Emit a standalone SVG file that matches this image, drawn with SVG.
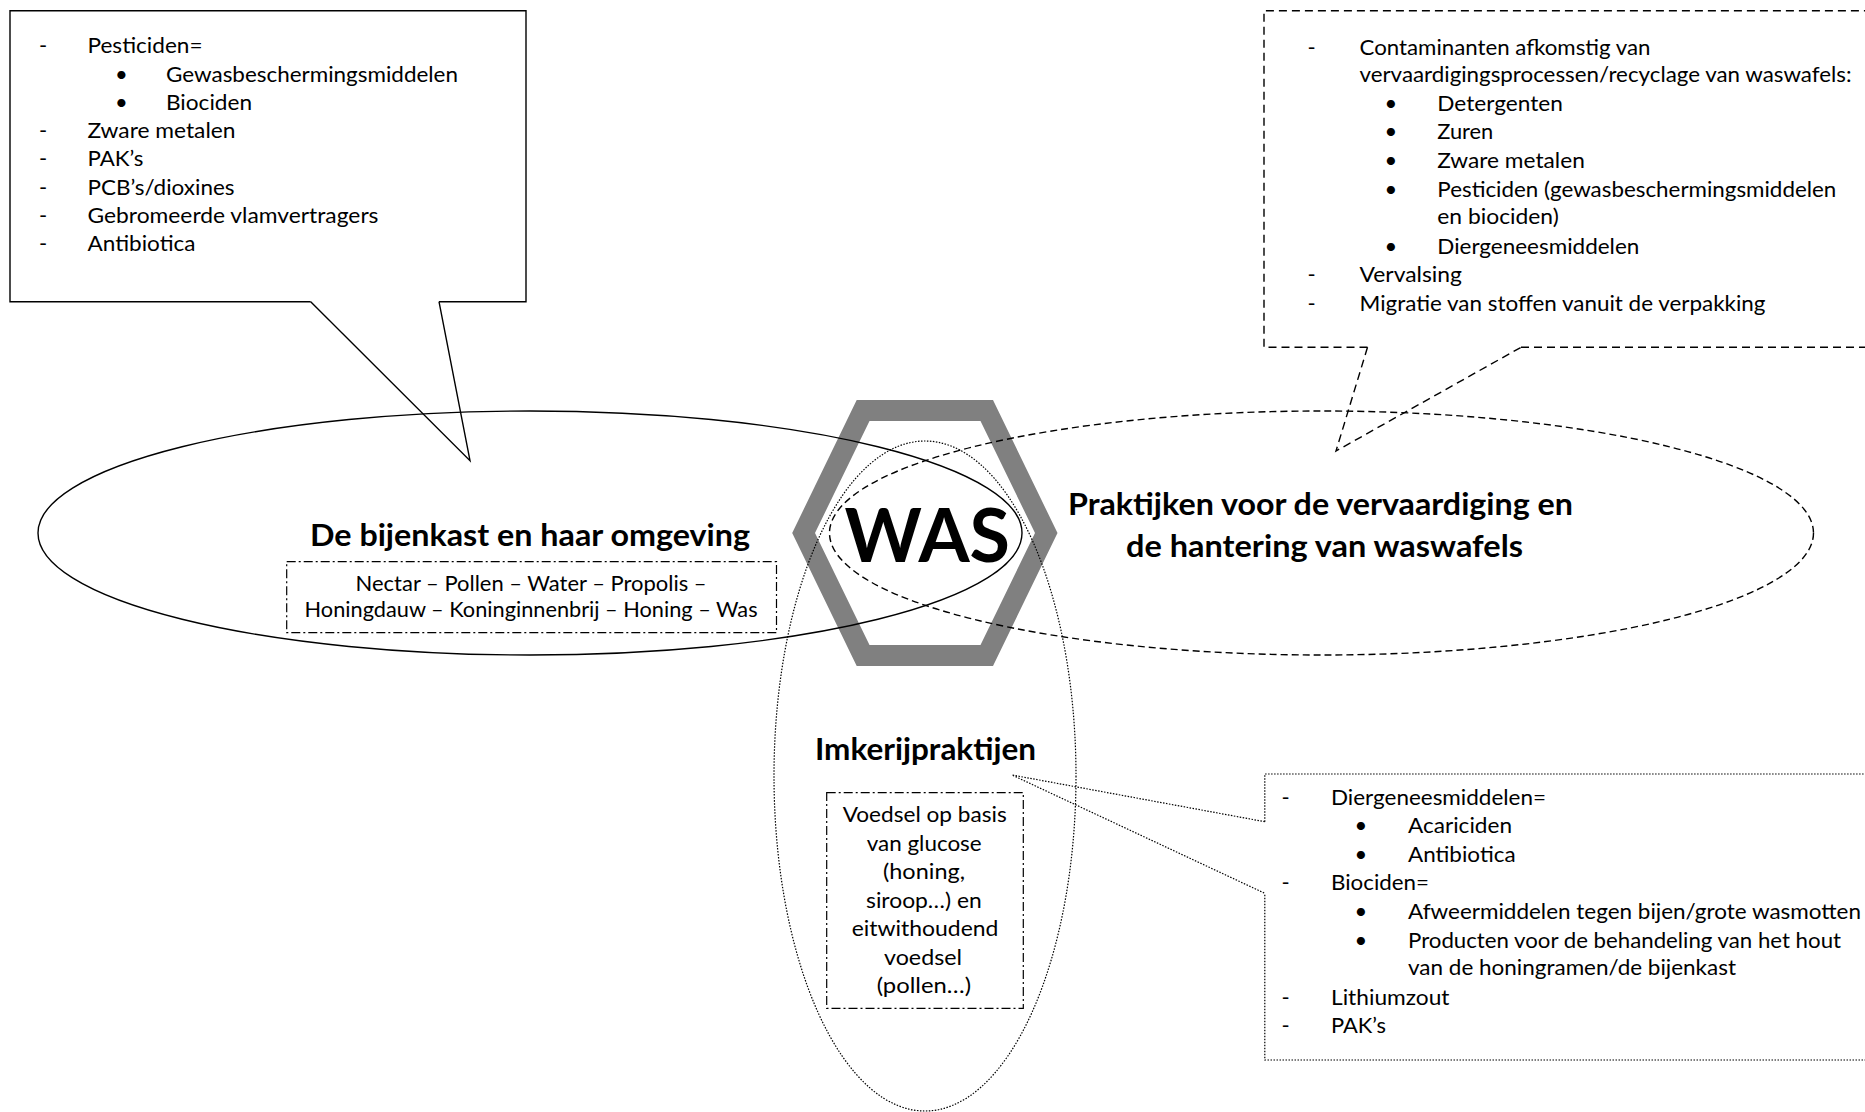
<svg xmlns="http://www.w3.org/2000/svg" width="1865" height="1112" viewBox="0 0 1865 1112">
<style>
.t{font-family:Lato,"Liberation Sans",sans-serif;font-size:22px;fill:#000}
.h{font-family:Lato,"Liberation Sans",sans-serif;font-size:29.5px;font-weight:bold;fill:#000}
.was{font-family:Lato,"Liberation Sans",sans-serif;font-size:75px;font-weight:bold;fill:#000}
.m{text-anchor:middle}
.ln{fill:none;stroke:#000;stroke-width:1.4}
.dash{stroke-dasharray:8 5}
.edash{stroke-dasharray:7 4}
.dot{stroke-width:1.2;stroke-dasharray:1.5 1.5}
.dd{stroke-width:1.2;stroke-dasharray:9 3 2 3}
</style>
<rect width="1865" height="1112" fill="#fff"/>

<g id="hexagon-was">
<path d="M856.7,400 H993 L1057.5,533 L993,666 H856.7 L792.2,533 Z M869.5,421 L815,533 L869.5,645 H980.5 L1035,533 L980.5,421 Z" fill="#808080" fill-rule="evenodd"/>
</g>

<g id="ellipse-bijenkast">
<ellipse class="ln" cx="530" cy="533" rx="492" ry="122"/>
<text class="h" x="310" y="545.7" textLength="440" lengthAdjust="spacingAndGlyphs">De bijenkast en haar omgeving</text>
</g>

<g id="ellipse-waswafels">
<ellipse class="ln edash" cx="1321.5" cy="533" rx="492" ry="122"/>
<text class="h" x="1068" y="515" textLength="505" lengthAdjust="spacingAndGlyphs">Praktijken voor de vervaardiging en</text>
<text class="h" x="1126" y="557" textLength="397" lengthAdjust="spacingAndGlyphs">de hantering van waswafels</text>
</g>

<g id="ellipse-imkerij">
<ellipse class="ln dot" cx="925" cy="776" rx="151" ry="335"/>
<text class="h" x="815" y="760" textLength="221" lengthAdjust="spacingAndGlyphs">Imkerijpraktijen</text>
</g>

<g id="was-label">
<text class="was" x="844.5" y="561.7" textLength="165.5" lengthAdjust="spacingAndGlyphs">WAS</text>
</g>

<g id="box-nectar">
<rect class="ln dd" x="286.7" y="561.7" width="489.8" height="71"/>
<text class="t" x="355.6" y="591" textLength="351" lengthAdjust="spacingAndGlyphs">Nectar – Pollen – Water – Propolis –</text>
<text class="t" x="304.6" y="617.3" textLength="453" lengthAdjust="spacingAndGlyphs">Honingdauw – Koninginnenbrij – Honing – Was</text>
</g>

<g id="box-voedsel">
<rect class="ln dd" x="826.7" y="792.7" width="196.6" height="215.6"/>
<text class="t" x="842.7" y="822" textLength="164" lengthAdjust="spacingAndGlyphs">Voedsel op basis</text>
<text class="t" x="866.7" y="850.5" textLength="115" lengthAdjust="spacingAndGlyphs">van glucose</text>
<text class="t" x="883" y="879" textLength="82" lengthAdjust="spacingAndGlyphs">(honing,</text>
<text class="t" x="866" y="907.5" textLength="115.7" lengthAdjust="spacingAndGlyphs">siroop…) en</text>
<text class="t" x="851.7" y="936" textLength="146.7" lengthAdjust="spacingAndGlyphs">eitwithoudend</text>
<text class="t" x="884" y="964.5" textLength="78" lengthAdjust="spacingAndGlyphs">voedsel</text>
<text class="t" x="876.7" y="993" textLength="94.3" lengthAdjust="spacingAndGlyphs">(pollen…)</text>
</g>

<g id="callout-omgeving">
<path class="ln" d="M310.7,301.7 H10 V10.7 H526 V301.7 H439"/>
<text class="t m" x="43" y="53.3">-</text>
<text class="t" x="87.5" y="53.3" textLength="115" lengthAdjust="spacingAndGlyphs">Pesticiden=</text>
<text class="t m" x="121.5" y="81.5">•</text>
<text class="t" x="166" y="81.5" textLength="292" lengthAdjust="spacingAndGlyphs">Gewasbeschermingsmiddelen</text>
<text class="t m" x="121.5" y="109.8">•</text>
<text class="t" x="166" y="109.8" textLength="86" lengthAdjust="spacingAndGlyphs">Biociden</text>
<text class="t m" x="43" y="138">-</text>
<text class="t" x="87.5" y="138" textLength="148" lengthAdjust="spacingAndGlyphs">Zware metalen</text>
<text class="t m" x="43" y="166.3">-</text>
<text class="t" x="87.5" y="166.3" textLength="56" lengthAdjust="spacingAndGlyphs">PAK’s</text>
<text class="t m" x="43" y="194.5">-</text>
<text class="t" x="87.5" y="194.5" textLength="147" lengthAdjust="spacingAndGlyphs">PCB’s/dioxines</text>
<text class="t m" x="43" y="222.8">-</text>
<text class="t" x="87.5" y="222.8" textLength="291" lengthAdjust="spacingAndGlyphs">Gebromeerde vlamvertragers</text>
<text class="t m" x="43" y="251">-</text>
<text class="t" x="87.5" y="251" textLength="108" lengthAdjust="spacingAndGlyphs">Antibiotica</text>
</g>

<g id="callout-vervaardiging">
<path class="ln dash" d="M1367.5,347.3 H1264 V10.7 H1875 M1521,347.3 H1875"/>
<text class="t m" x="1311.7" y="55">-</text>
<text class="t" x="1359.5" y="55" textLength="291" lengthAdjust="spacingAndGlyphs">Contaminanten afkomstig van</text>
<text class="t" x="1359.5" y="82" textLength="492" lengthAdjust="spacingAndGlyphs">vervaardigingsprocessen/recyclage van waswafels:</text>
<text class="t m" x="1391" y="111">•</text>
<text class="t" x="1437.3" y="111" textLength="125.5" lengthAdjust="spacingAndGlyphs">Detergenten</text>
<text class="t m" x="1391" y="139.3">•</text>
<text class="t" x="1437.3" y="139.3" textLength="56" lengthAdjust="spacingAndGlyphs">Zuren</text>
<text class="t m" x="1391" y="167.5">•</text>
<text class="t" x="1437.3" y="167.5" textLength="147.5" lengthAdjust="spacingAndGlyphs">Zware metalen</text>
<text class="t m" x="1391" y="196.5">•</text>
<text class="t" x="1437.3" y="196.5" textLength="399" lengthAdjust="spacingAndGlyphs">Pesticiden (gewasbeschermingsmiddelen</text>
<text class="t" x="1437.3" y="223.5" textLength="121.5" lengthAdjust="spacingAndGlyphs">en biociden)</text>
<text class="t m" x="1391" y="254">•</text>
<text class="t" x="1437.3" y="254" textLength="202" lengthAdjust="spacingAndGlyphs">Diergeneesmiddelen</text>
<text class="t m" x="1311.7" y="282">-</text>
<text class="t" x="1359.5" y="282" textLength="102.5" lengthAdjust="spacingAndGlyphs">Vervalsing</text>
<text class="t m" x="1311.7" y="310.5">-</text>
<text class="t" x="1359.5" y="310.5" textLength="406" lengthAdjust="spacingAndGlyphs">Migratie van stoffen vanuit de verpakking</text>
</g>

<g id="callout-imkerij">
<path class="ln dot" d="M1264.8,821.7 V774 H1875 M1875,1060 H1264.8 V893.3"/>
<text class="t m" x="1285.7" y="805">-</text>
<text class="t" x="1331" y="805" textLength="215" lengthAdjust="spacingAndGlyphs">Diergeneesmiddelen=</text>
<text class="t m" x="1361" y="833.3">•</text>
<text class="t" x="1408" y="833.3" textLength="104" lengthAdjust="spacingAndGlyphs">Acariciden</text>
<text class="t m" x="1361" y="861.7">•</text>
<text class="t" x="1408" y="861.7" textLength="107.6" lengthAdjust="spacingAndGlyphs">Antibiotica</text>
<text class="t m" x="1285.7" y="890">-</text>
<text class="t" x="1331" y="890" textLength="98" lengthAdjust="spacingAndGlyphs">Biociden=</text>
<text class="t m" x="1361" y="919">•</text>
<text class="t" x="1408" y="919" textLength="453" lengthAdjust="spacingAndGlyphs">Afweermiddelen tegen bijen/grote wasmotten</text>
<text class="t m" x="1361" y="947.7">•</text>
<text class="t" x="1408" y="947.7" textLength="433" lengthAdjust="spacingAndGlyphs">Producten voor de behandeling van het hout</text>
<text class="t" x="1408" y="975" textLength="328" lengthAdjust="spacingAndGlyphs">van de honingramen/de bijenkast</text>
<text class="t m" x="1285.7" y="1005">-</text>
<text class="t" x="1331" y="1005" textLength="118.5" lengthAdjust="spacingAndGlyphs">Lithiumzout</text>
<text class="t m" x="1285.7" y="1033.3">-</text>
<text class="t" x="1331" y="1033.3" textLength="55" lengthAdjust="spacingAndGlyphs">PAK’s</text>
</g>

<g id="connectors">
<polyline class="ln" points="310.7,301.7 470,460.7 439,301.7"/>
<polyline class="ln dash" points="1367.5,347.3 1336,451 1521,347.3"/>
<polyline class="ln dot" points="1264.8,821.7 1012,775 1264.8,893.3"/>
</g>
</svg>
